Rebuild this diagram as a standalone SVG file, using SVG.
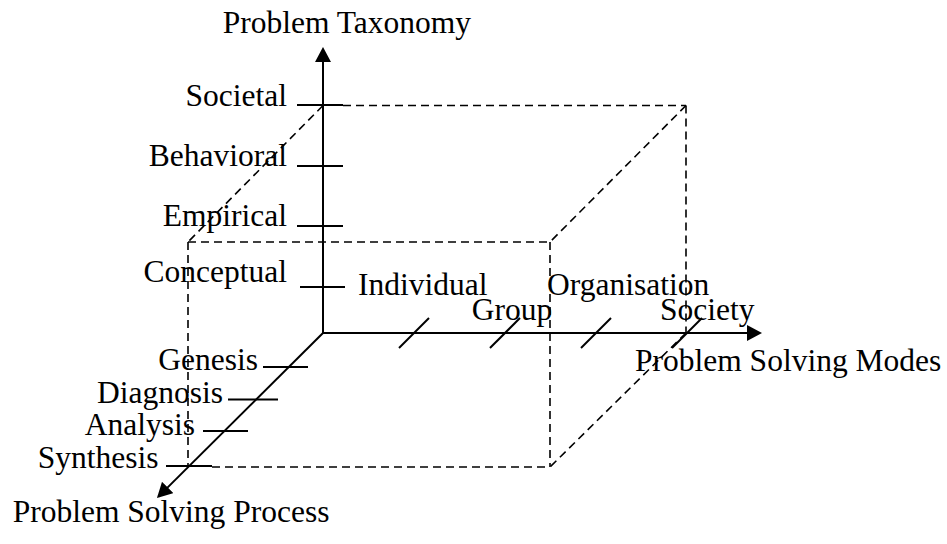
<svg xmlns="http://www.w3.org/2000/svg" width="947" height="544" viewBox="0 0 947 544">
<style>
  .t { font-family: "Liberation Serif", "Times New Roman", serif; font-size: 31.5px; fill: #000; }
  .e { text-anchor: end; }
  .ax { stroke: #000; stroke-width: 2; fill: none; }
  .tk { stroke: #000; stroke-width: 2; fill: none; }
  .d { stroke: #000; stroke-width: 1.6; stroke-dasharray: 8 5; fill: none; }
</style>
<defs>
  <marker id="arr" viewBox="0 0 15 16" refX="13" refY="8" markerWidth="15" markerHeight="16" markerUnits="userSpaceOnUse" orient="auto">
    <path d="M0,0 L15,8 L0,16 z" fill="#000"/>
  </marker>
</defs>
<rect width="947" height="544" fill="#fff"/>
<g id="box">
  <line class="d" x1="343" y1="105.5" x2="686" y2="105.5"/>
  <line class="d" x1="686" y1="105.5" x2="686" y2="333"/>
  <line class="d" x1="323" y1="105.5" x2="188" y2="242"/>
  <line class="d" x1="686" y1="105.5" x2="550" y2="242"/>
  <line class="d" x1="686" y1="333" x2="550" y2="467"/>
  <line class="d" x1="188" y1="242" x2="550" y2="242"/>
  <line class="d" x1="188" y1="242" x2="188" y2="467"/>
  <line class="d" x1="550" y1="242" x2="550" y2="467"/>
  <line class="d" x1="212" y1="467" x2="550" y2="467"/>
</g>
<g id="connectors">
  <line class="ax" x1="323" y1="333" x2="323" y2="49" marker-end="url(#arr)"/>
  <line class="ax" x1="322" y1="333" x2="760" y2="333" marker-end="url(#arr)"/>
  <line class="ax" x1="323" y1="333" x2="158.4" y2="496.6" marker-end="url(#arr)"/>
</g>
<g id="ticks">
  <line class="tk" x1="297" y1="105" x2="343" y2="105"/>
  <line class="tk" x1="297" y1="166" x2="343" y2="166"/>
  <line class="tk" x1="297" y1="226" x2="343" y2="226"/>
  <line class="tk" x1="300" y1="287" x2="345" y2="287"/>
  <line class="tk" x1="399" y1="348" x2="429" y2="318"/>
  <line class="tk" x1="490" y1="348" x2="520" y2="318"/>
  <line class="tk" x1="581" y1="348" x2="611" y2="318"/>
  <line class="tk" x1="672" y1="348" x2="702" y2="318"/>
  <line class="tk" x1="263" y1="367" x2="308" y2="367"/>
  <line class="tk" x1="228" y1="399.5" x2="278" y2="399.5"/>
  <line class="tk" x1="203" y1="431" x2="248" y2="431"/>
  <line class="tk" x1="166" y1="466" x2="212" y2="466"/>
</g>
<g id="axis-taxonomy">
  <text class="t" x="222.7" y="33">Problem Taxonomy</text>
  <text class="t e" x="287" y="106">Societal</text>
  <text class="t e" x="287" y="166">Behavioral</text>
  <text class="t e" x="287" y="226">Empirical</text>
  <text class="t e" x="287" y="282">Conceptual</text>
</g>
<g id="axis-modes">
  <text class="t" x="635" y="371">Problem Solving Modes</text>
  <text class="t" x="358" y="295">Individual</text>
  <text class="t" x="471.7" y="320">Group</text>
  <text class="t" x="547" y="295">Organisation</text>
  <text class="t" x="660" y="320">Society</text>
</g>
<g id="axis-process">
  <text class="t" x="12.7" y="522">Problem Solving Process</text>
  <text class="t e" x="258" y="370">Genesis</text>
  <text class="t e" x="223" y="403">Diagnosis</text>
  <text class="t e" x="195" y="435">Analysis</text>
  <text class="t e" x="158.5" y="468">Synthesis</text>
</g>
</svg>
